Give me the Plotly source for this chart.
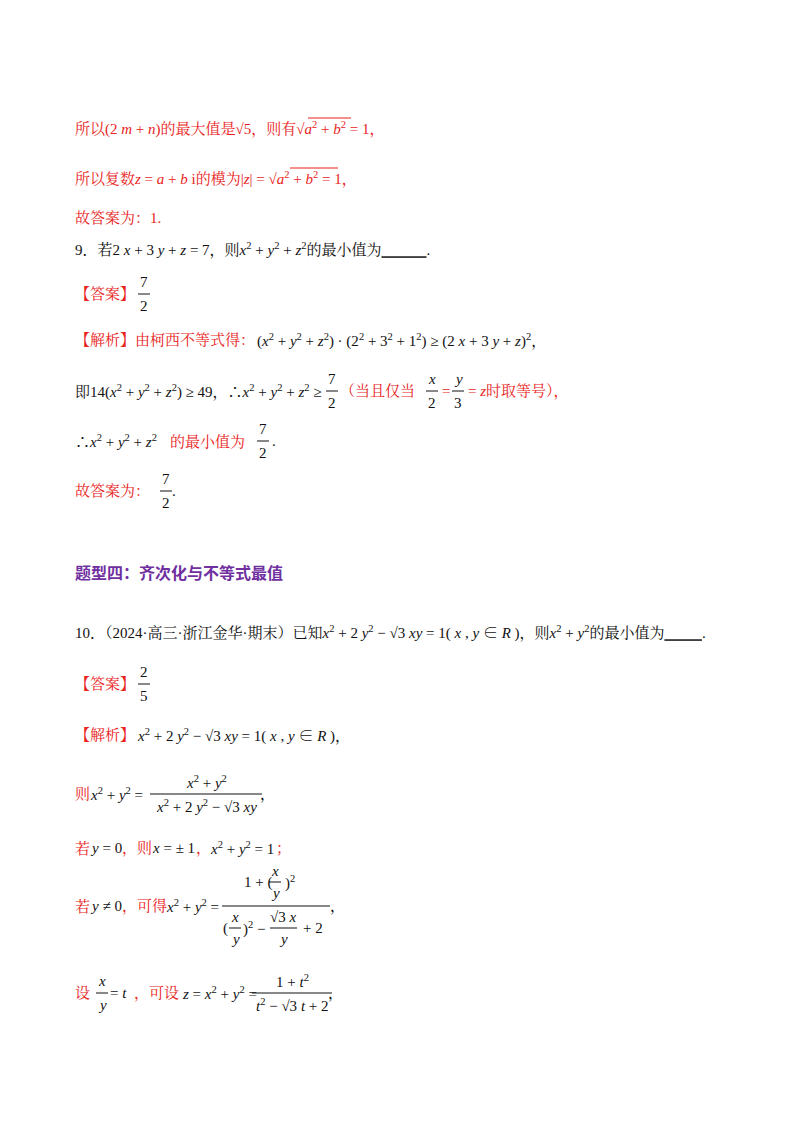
import plotly.graph_objects as go

RED = "#e8231b"
BLK = "#111111"
PUR = "#7030a0"
FONT = "Liberation Serif, Noto Serif CJK SC, Noto Sans CJK SC"
DX = -8  # annotation padding compensation

X2Y2Z2 = "<i>x</i><sup>2</sup> + <i>y</i><sup>2</sup> + <i>z</i><sup>2</sup>"
A2B2 = "<i>a</i><sup>2</sup> + <i>b</i><sup>2</sup>"

# text segments: (x, y, html, color)
segments = [
    (73, 120, "所以(2 <i>m</i> + <i>n</i>)的最大值是√5，则有√" + A2B2 + " = 1，", RED),
    (73, 170, "所以复数<i>z</i> = <i>a</i> + <i>b</i> i的模为|<i>z</i>| = √" + A2B2 + " = 1，", RED),
    (73, 210, "故答案为：1.", RED),
    (73, 241, "9．若2 <i>x</i> + 3 <i>y</i> + <i>z</i> = 7，则" + X2Y2Z2 + "的最小值为<u>            </u>.", BLK),
    (73, 286, "【答案】", RED),
    (73, 332, "【解析】由柯西不等式得：", RED),
    (255, 332, "(" + X2Y2Z2 + ") · (2<sup>2</sup> + 3<sup>2</sup> + 1<sup>2</sup>) ≥ (2 <i>x</i> + 3 <i>y</i> + <i>z</i>)<sup>2</sup>，", BLK),
    (73, 383, "即14(" + X2Y2Z2 + ") ≥ 49，∴" + X2Y2Z2 + " ≥", BLK),
    (338, 383, "（当且仅当", RED), (440, 383, "=", RED), (466, 383, "= <i>z</i>时取等号），", RED),
    (73, 433, "∴" + X2Y2Z2, BLK), (168, 433, "的最小值为", RED), (270, 433, ".", BLK),
    (73, 483, "故答案为：", RED), (170, 483, ".", BLK),
    (73, 624, "10．（2024·高三·浙江金华·期末）已知<i>x</i><sup>2</sup> + 2 <i>y</i><sup>2</sup> − √3 <i>xy</i> = 1( <i>x</i> , <i>y</i> ∈ <i>R</i> )，则<i>x</i><sup>2</sup> + <i>y</i><sup>2</sup>的最小值为<u>          </u>.", BLK),
    (73, 676, "【答案】", RED),
    (73, 727, "【解析】", RED),
    (135, 727, "<i>x</i><sup>2</sup> + 2 <i>y</i><sup>2</sup> − √3 <i>xy</i> = 1( <i>x</i> , <i>y</i> ∈ <i>R</i> )，", BLK),
    (73, 786, "则", RED), (88, 786, "<i>x</i><sup>2</sup> + <i>y</i><sup>2</sup> =", BLK), (258, 786, "，", BLK),
    (73, 840, "若", RED), (88, 840, "<i>y</i> = 0", BLK), (120, 840, "，则", RED), (150, 840, "<i>x</i> = ± 1", BLK),
    (194, 840, "，", RED), (208, 840, "<i>x</i><sup>2</sup> + <i>y</i><sup>2</sup> = 1", BLK), (274, 840, "；", RED),
    (73, 898, "若", RED), (88, 898, "<i>y</i> ≠ 0", BLK), (120, 898, "，可得", RED),
    (164, 898, "<i>x</i><sup>2</sup> + <i>y</i><sup>2</sup> =", BLK), (328, 898, "，", BLK),
    (73, 985, "设", RED), (108, 985, "= <i>t</i>", BLK), (132, 985, "，可设", RED),
    (180, 985, "<i>z</i> = <i>x</i><sup>2</sup> + <i>y</i><sup>2</sup> =", BLK), (326, 985, "，", BLK),
]
# fractions: (center x, line y, numerator, denominator, bar width)
fractions = [
    (136, 286, "7", "2", 12),
    (324, 383, "7", "2", 12),
    (424, 383, "<i>x</i>", "2", 12),
    (450, 383, "<i>y</i>", "3", 12),
    (255, 433, "7", "2", 12),
    (158, 483, "7", "2", 12),
    (136, 676, "2", "5", 12),
    (198, 786, "<i>x</i><sup>2</sup> + <i>y</i><sup>2</sup>", "<i>x</i><sup>2</sup> + 2 <i>y</i><sup>2</sup> − √3 <i>xy</i>", 112),
    (94, 985, "<i>x</i>", "<i>y</i>", 12),
    (284, 985, "1 + <i>t</i><sup>2</sup>", "<i>t</i><sup>2</sup> − √3 <i>t</i> + 2", 80),
]
# radical overlines: (x0, x1, y, color)
overlines = [(300, 343, 110, RED), (282, 330, 160, RED)]

fig = go.Figure()
anns, shapes = [], []
for x, y, t, c in segments:
    anns.append(dict(x=x + DX, y=y, text=t, xanchor="left", yanchor="middle", showarrow=False,
                     font=dict(family=FONT, size=15, color=c)))
for xc, y, n, d, w in fractions:
    anns.append(dict(x=xc, y=y - 12, text=n, xanchor="center", yanchor="middle", showarrow=False,
                     font=dict(family=FONT, size=15, color=BLK)))
    anns.append(dict(x=xc, y=y + 12, text=d, xanchor="center", yanchor="middle", showarrow=False,
                     font=dict(family=FONT, size=15, color=BLK)))
    shapes.append(dict(type="line", x0=xc - w / 2, x1=xc + w / 2, y0=y, y1=y, line=dict(color=BLK, width=1)))
for x0, x1, y, c in overlines:
    shapes.append(dict(type="line", x0=x0, x1=x1, y0=y, y1=y, line=dict(color=c, width=1)))

# complex fraction on line "若y≠0"
yb = 898
shapes.append(dict(type="line", x0=214, x1=322, y0=yb, y1=yb, line=dict(color=BLK, width=1)))
extra = [
    (250, yb - 24, "1 + (", "center"), (267, yb - 35, "<i>x</i>", "center"), (267, yb - 13, "<i>y</i>", "center"),
    (282, yb - 24, ")<sup>2</sup>", "center"),
    (217, yb + 22, "(", "center"), (227, yb + 11, "<i>x</i>", "center"), (227, yb + 33, "<i>y</i>", "center"),
    (246, yb + 22, ")<sup>2</sup> −", "center"), (275, yb + 11, "√3 <i>x</i>", "center"), (275, yb + 33, "<i>y</i>", "center"),
    (305, yb + 22, "+ 2", "center"),
]
for x, y, t, a in extra:
    anns.append(dict(x=x, y=y, text=t, xanchor=a, yanchor="middle", showarrow=False,
                     font=dict(family=FONT, size=15, color=BLK)))
for x0, x1, y in [(261, 273, yb - 24), (221, 233, yb + 22), (262, 289, yb + 22)]:
    shapes.append(dict(type="line", x0=x0, x1=x1, y0=y, y1=y, line=dict(color=BLK, width=1)))

anns.append(dict(x=73 + DX, y=564, text="<b>题型四：齐次化与不等式最值</b>", xanchor="left", yanchor="middle",
                 showarrow=False, font=dict(family="Noto Sans CJK SC", size=16, color=PUR)))

fig.update_layout(width=800, height=1132, margin=dict(l=0, r=0, t=0, b=0),
                  paper_bgcolor="white", plot_bgcolor="white", annotations=anns, shapes=shapes,
                  xaxis=dict(range=[0, 800], visible=False, fixedrange=True),
                  yaxis=dict(range=[1132, 0], visible=False, fixedrange=True), showlegend=False)
fig.write_html("out.html")
